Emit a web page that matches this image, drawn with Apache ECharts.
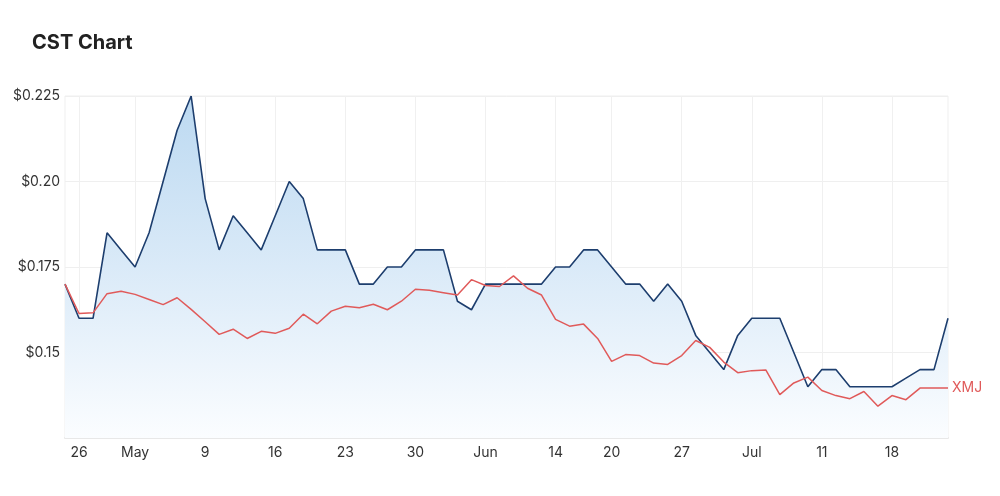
<!DOCTYPE html>
<html>
<head>
<meta charset="utf-8">
<script src="https://cdn.jsdelivr.net/npm/echarts@6/dist/echarts.min.js"></script>
<style>
html,body{margin:0;padding:0;background:#fff;}
#c{width:1000px;height:496px;}
</style>
</head>
<body>
<div id="c"></div>
<script>
// Trading days (2022), Apr 22 to Jul 22
var dates = [
  "04-22","04-26","04-27","04-28","04-29",
  "05-02","05-03","05-04","05-05","05-06",
  "05-09","05-10","05-11","05-12","05-13",
  "05-16","05-17","05-18","05-19","05-20",
  "05-23","05-24","05-25","05-26","05-27",
  "05-30","05-31","06-01","06-02","06-03",
  "06-06","06-07","06-08","06-09","06-10",
  "06-14","06-15","06-16","06-17",
  "06-20","06-21","06-22","06-23","06-24",
  "06-27","06-28","06-29","06-30","07-01",
  "07-04","07-05","07-06","07-07","07-08",
  "07-11","07-12","07-13","07-14","07-15",
  "07-18","07-19","07-20","07-21","07-22"
];
// x tick labels (week starts)
var tickDates  = ["04-26","05-02","05-09","05-16","05-23","05-30","06-06","06-14","06-20","06-27","07-04","07-11","07-18"];
var tickLabels = ["26","May","9","16","23","30","Jun","14","20","27","Jul","11","18"];

var cst = [
  0.170, 0.160, 0.160, 0.185, 0.180,
  0.175, 0.185, 0.200, 0.215, 0.225,
  0.195, 0.180, 0.190, 0.185, 0.180,
  0.190, 0.200, 0.195, 0.180, 0.180,
  0.180, 0.170, 0.170, 0.175, 0.175,
  0.180, 0.180, 0.180, 0.165, 0.1625,
  0.170, 0.170, 0.170, 0.170, 0.170,
  0.175, 0.175, 0.180, 0.180,
  0.175, 0.170, 0.170, 0.165, 0.170,
  0.165, 0.155, 0.150, 0.145, 0.155,
  0.160, 0.160, 0.160, 0.150, 0.140,
  0.145, 0.145, 0.140, 0.140, 0.140,
  0.140, 0.1425, 0.145, 0.145, 0.160
];
var xmj = [
  0.1700, 0.1614, 0.1616, 0.1672, 0.1679,
  0.1670, 0.1655, 0.1640, 0.1660, 0.1626,
  0.1590, 0.1553, 0.1568, 0.1541, 0.1562,
  0.1556, 0.1571, 0.1612, 0.1584, 0.1621,
  0.1635, 0.1631, 0.1641, 0.1625, 0.1650,
  0.1685, 0.1682, 0.1675, 0.1668, 0.1713,
  0.1696, 0.1693, 0.1724, 0.1688, 0.1668,
  0.1597, 0.1577, 0.1583, 0.1541,
  0.1474, 0.1494, 0.1491, 0.1469, 0.1465,
  0.1491, 0.1535, 0.1515, 0.1472, 0.1441,
  0.1447, 0.1449, 0.1377, 0.1411, 0.1428,
  0.1389, 0.1374, 0.1365, 0.1386, 0.1343,
  0.1374, 0.1362, 0.1396, 0.1396, 0.1396
];
var yTicks = { min: 0.125, max: 0.225, interval: 0.025 };

function isTick(idx) { return tickDates.indexOf(dates[idx]) >= 0; }

var chart = echarts.init(document.getElementById('c'), null, { renderer: 'canvas' });
chart.setOption({
  animation: false,
  backgroundColor: '#fff',
  title: {
    text: 'CST Chart',
    left: 27, top: 28,
    textStyle: { fontFamily: 'Inter, Roboto, sans-serif', fontSize: 20, fontWeight: 'bold', color: '#222' }
  },
  grid: { left: 65, right: 52, top: 96, bottom: 58, show: true, borderColor: '#efefef', borderWidth: 1 },
  xAxis: {
    type: 'category',
    data: dates,
    boundaryGap: false,
    axisLine: { show: true, lineStyle: { color: '#e8e8e8', width: 2 } },
    axisTick: { show: false },
    axisLabel: {
      interval: function (idx) { return isTick(idx); },
      formatter: function (v) { return tickLabels[tickDates.indexOf(v)]; },
      color: '#333', fontSize: 14, fontFamily: 'Inter, Roboto, sans-serif', margin: 8
    },
    splitLine: { show: true, interval: function (idx) { return isTick(idx); }, lineStyle: { color: '#f0f0f0' } }
  },
  yAxis: {
    type: 'value',
    min: yTicks.min, max: yTicks.max, interval: yTicks.interval,
    axisLine: { show: false },
    axisTick: { show: false },
    axisLabel: {
      showMinLabel: false,
      color: '#333', fontSize: 14, fontFamily: 'Inter, Roboto, sans-serif', margin: 5,
      formatter: function (v) {
        var s = v.toFixed(3);
        if (s.charAt(s.length - 1) === '0') s = v.toFixed(2);
        return '$' + s;
      }
    },
    splitLine: { lineStyle: { color: '#efefef' } }
  },
  series: [
    {
      name: 'CST', type: 'line', data: cst, symbol: 'none',
      lineStyle: { color: '#1d3e6e', width: 1.6 },
      areaStyle: {
        opacity: 1,
        color: new echarts.graphic.LinearGradient(0, 0, 0, 1, [
          { offset: 0, color: 'rgb(188,217,241)' },
          { offset: 0.5, color: 'rgb(218,234,248)' },
          { offset: 1, color: 'rgb(251,253,255)' }
        ])
      },
      z: 2
    },
    {
      name: 'XMJ', type: 'line', data: xmj, symbol: 'none',
      lineStyle: { color: '#e05a5a', width: 1.5 },
      endLabel: { show: true, formatter: 'XMJ', color: '#e05a5a', fontSize: 14, fontFamily: 'Inter, Roboto, sans-serif', distance: 4 },
      z: 3
    }
  ]
});
</script>
</body>
</html>
